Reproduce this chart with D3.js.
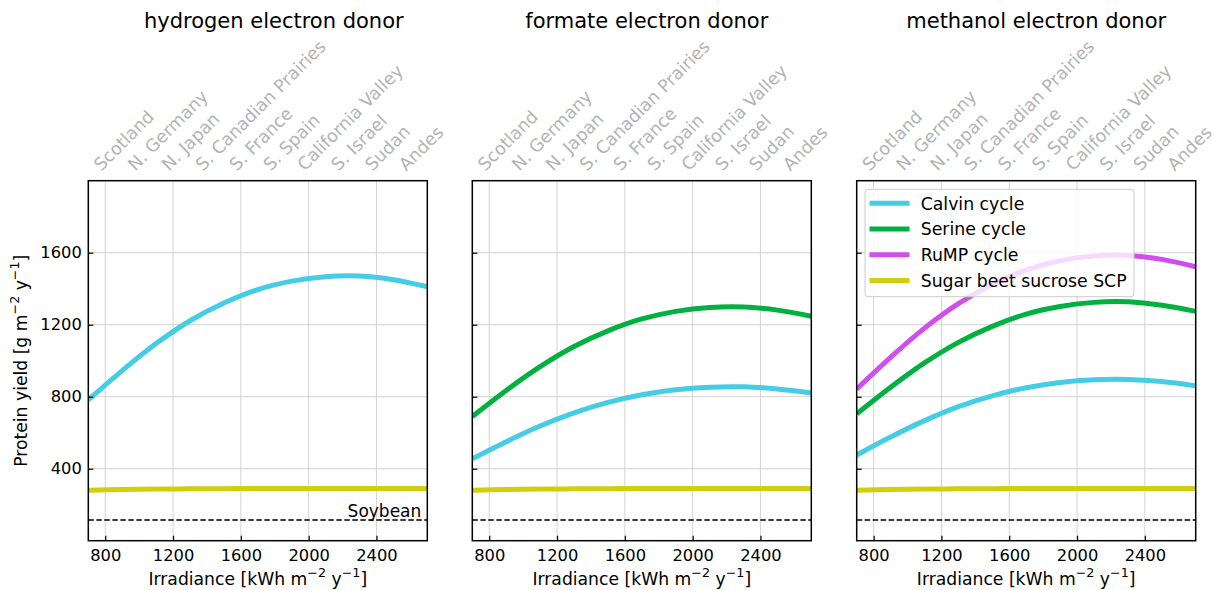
<!DOCTYPE html>
<html><head><meta charset="utf-8">
<script src="https://cdn.jsdelivr.net/npm/d3@7"></script>
<style>
body{margin:0;background:#fff;}
text{font-family:"DejaVu Sans",sans-serif;}
</style></head>
<body><svg id="c" width="1212" height="590"></svg>
<script>
// ---- data ----
const irradiance = [700, 900, 1100, 1300, 1500, 1700, 1900, 2100, 2300, 2500, 2700];
const calvinH2      = [782, 945, 1095, 1222, 1320, 1395, 1442, 1467, 1470, 1450, 1411];
const calvinFormate = [455, 550, 637, 710, 768, 811, 839, 853, 855, 843, 821];
const serineFormate = [690, 835, 967, 1079, 1166, 1232, 1274, 1296, 1299, 1281, 1247];
const calvinMethanol = [476, 576, 667, 745, 805, 850, 879, 894, 896, 884, 860];
const serineMethanol = [705, 853, 988, 1102, 1191, 1259, 1301, 1324, 1327, 1308, 1274];
const rumpMethanol   = [843, 1019, 1181, 1317, 1424, 1504, 1555, 1582, 1585, 1563, 1522];
const sugarBeet      = [280, 284, 287, 288, 289, 290, 290, 290, 290, 290, 290];
const soybean = 115;
const regions = ["Scotland", "N. Germany", "N. Japan", "S. Canadian Prairies", "S. France",
                 "S. Spain", "California Valley", "S. Israel", "Sudan", "Andes"];
const regionIrradiance = [800, 1000, 1200, 1400, 1600, 1800, 2000, 2200, 2400, 2600];
const xTicks = [800, 1200, 1600, 2000, 2400];
const yTicks = [400, 800, 1200, 1600];
const panelTitles = ["hydrogen electron donor", "formate electron donor", "methanol electron donor"];
const seriesNames = ["Calvin cycle", "Serine cycle", "RuMP cycle", "Sugar beet sucrose SCP"];
const colors = {"Calvin cycle": "#45cde6", "Serine cycle": "#00b140", "RuMP cycle": "#d04eee", "Sugar beet sucrose SCP": "#cfcf0e"};

const panels = [
  {title: panelTitles[0], series: [["Calvin cycle", calvinH2], ["Sugar beet sucrose SCP", sugarBeet]]},
  {title: panelTitles[1], series: [["Calvin cycle", calvinFormate], ["Serine cycle", serineFormate], ["Sugar beet sucrose SCP", sugarBeet]]},
  {title: panelTitles[2], series: [["Calvin cycle", calvinMethanol], ["Serine cycle", serineMethanol], ["RuMP cycle", rumpMethanol], ["Sugar beet sucrose SCP", sugarBeet]]}
];

// ---- layout ----
const svg = d3.select("#c");
const panelLeft = [88.3, 472.3, 856.7];
const titleShift = [16, 5, 10];
const pw = 339, plotTop = 180.7, plotBottom = 540.7;
const y = d3.scaleLinear().domain([0, 2000]).range([plotBottom, plotTop]);
const tickFont = 16.3, labelFont = 17.2;

function sup(sel, parts) {
  let pending = 0;
  parts.forEach(p => {
    const t = sel.append("tspan");
    if (p.sup) {
      t.attr("font-size", "0.74em").attr("dy", (pending - 0.62) + "em").text(p.t);
      pending = 0.46;
    } else {
      if (pending) t.attr("dy", (0.62 * 0.74) + "em");
      t.text(p.t);
      pending = 0;
    }
  });
}

panels.forEach((p, i) => {
  const x0 = panelLeft[i];
  const x = d3.scaleLinear().domain([700, 2700]).range([x0, x0 + pw]);
  const g = svg.append("g");
  const clipId = "clip" + i;
  svg.append("clipPath").attr("id", clipId).append("rect")
    .attr("x", x0).attr("y", plotTop).attr("width", pw).attr("height", plotBottom - plotTop);

  // grid
  g.selectAll(".gx").data(xTicks).join("line")
    .attr("x1", d => x(d)).attr("x2", d => x(d)).attr("y1", plotTop).attr("y2", plotBottom)
    .attr("stroke", "#d3d3d3").attr("stroke-width", 1);
  g.selectAll(".gy").data(yTicks).join("line")
    .attr("x1", x0).attr("x2", x0 + pw).attr("y1", d => y(d)).attr("y2", d => y(d))
    .attr("stroke", "#d3d3d3").attr("stroke-width", 1);

  // lines
  const line = d3.line().x((d, k) => x(irradiance[k])).y(d => y(d)).curve(d3.curveCatmullRom);
  const lg = g.append("g").attr("clip-path", `url(#${clipId})`);
  p.series.forEach(([name, vals]) => {
    lg.append("path").attr("d", line(vals)).attr("fill", "none")
      .attr("stroke", colors[name]).attr("stroke-width", 5).attr("stroke-linecap", "butt");
  });
  // soybean
  lg.append("line").attr("x1", x0).attr("x2", x0 + pw).attr("y1", y(soybean)).attr("y2", y(soybean))
    .attr("stroke", "#000").attr("stroke-width", 1.5).attr("stroke-dasharray", "5.5,2.5");
  if (i === 0) {
    g.append("text").attr("x", x0 + pw - 6).attr("y", y(soybean) - 3).attr("text-anchor", "end")
      .attr("font-size", 17).text("Soybean");
  }

  // frame
  g.append("rect").attr("x", x0).attr("y", plotTop).attr("width", pw).attr("height", plotBottom - plotTop)
    .attr("fill", "none").attr("stroke", "#000").attr("stroke-width", 1.5);

  // x ticks (inward)
  const xa = g.append("g").attr("transform", `translate(0,${plotBottom})`)
    .call(d3.axisBottom(x).tickValues(xTicks).tickSizeInner(-5).tickSizeOuter(0).tickPadding(8.5).tickFormat(d3.format("d")));
  xa.select(".domain").remove();
  xa.selectAll("line").attr("stroke", "#000").attr("stroke-width", 1.2);
  xa.selectAll("text").attr("font-size", tickFont).attr("font-family", "DejaVu Sans").attr("fill", "#000");

  // y ticks
  const ya = g.append("g").attr("transform", `translate(${x0},0)`)
    .call(d3.axisLeft(y).tickValues(yTicks).tickSizeInner(-5).tickSizeOuter(0).tickPadding(6.5).tickFormat(d3.format("d")));
  ya.select(".domain").remove();
  ya.selectAll("line").attr("stroke", "#000").attr("stroke-width", 1.2);
  ya.selectAll("text").attr("font-size", tickFont).attr("font-family", "DejaVu Sans").attr("fill", "#000");
  if (i > 0) ya.selectAll("text").remove();

  // title
  g.append("text").attr("x", x0 + pw / 2 + titleShift[i]).attr("y", 27.5).attr("text-anchor", "middle")
    .attr("font-size", 21).text(p.title);

  // region labels
  g.selectAll(".reg").data(regions).join("text")
    .attr("transform", (d, k) => `translate(${x(regionIrradiance[k]) - 4},${plotTop - 9}) rotate(-45)`)
    .attr("font-size", 17.5).attr("fill", "#b3b3b3").text(d => d);

  // x label
  const xl = g.append("text").attr("x", x0 + pw / 2).attr("y", 585).attr("text-anchor", "middle")
    .attr("font-size", labelFont);
  sup(xl, [{t: "Irradiance [kWh m"}, {t: "−2", sup: true}, {t: " y"}, {t: "−1", sup: true}, {t: "]"}]);

  // legend
  if (i === 2) {
    const lx = 865, ly = 189.3;
    g.append("rect").attr("x", lx).attr("y", ly).attr("width", 269).attr("height", 107.4).attr("rx", 3)
      .attr("fill", "#fff").attr("fill-opacity", 0.8).attr("stroke", "#cccccc").attr("stroke-width", 1);
    seriesNames.forEach((name, k) => {
      const yy = 203.3 + k * 25.7;
      g.append("line").attr("x1", 869.5).attr("x2", 909.5).attr("y1", yy).attr("y2", yy)
        .attr("stroke", colors[name]).attr("stroke-width", 5);
      g.append("text").attr("x", 920.7).attr("y", yy + 6.2).attr("font-size", 17.3).text(name);
    });
  }
});

// y label
const yl = svg.append("text").attr("transform", `translate(26.5,${(plotTop + plotBottom) / 2}) rotate(-90)`)
  .attr("text-anchor", "middle").attr("font-size", labelFont);
sup(yl, [{t: "Protein yield [g m"}, {t: "−2", sup: true}, {t: " y"}, {t: "−1", sup: true}, {t: "]"}]);
</script></body></html>
